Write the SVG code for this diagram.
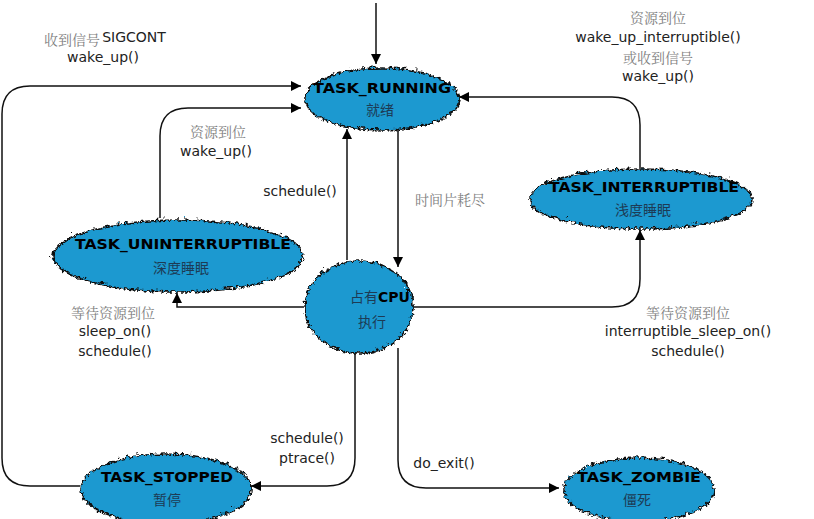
<svg xmlns="http://www.w3.org/2000/svg" width="814" height="519" viewBox="0 0 814 519">
<style>
.cloud{fill:#1d99d0;stroke:#111;stroke-width:1.6;filter:url(#wavy)}
.t{font-family:"DejaVu Sans","Noto Sans CJK SC",sans-serif;font-weight:bold;font-size:14px;fill:#000;text-anchor:middle}
.c{font-family:"Noto Sans CJK SC",sans-serif;font-size:14px;fill:#1d3b55;text-anchor:middle}
.l{font-family:"DejaVu Sans","Noto Sans CJK SC",sans-serif;font-size:14px;fill:#222;text-anchor:middle}
.g{font-family:"Noto Serif CJK SC","Noto Sans CJK SC",serif;font-size:14px;fill:#808080;text-anchor:middle}
.e{fill:none;stroke:#111;stroke-width:1.5;marker-end:url(#ah)}
</style>
<defs>
<filter id="wavy" x="-10%" y="-20%" width="120%" height="140%">
<feTurbulence type="turbulence" baseFrequency="0.2" numOctaves="1" seed="3" result="n"/>
<feDisplacementMap in="SourceGraphic" in2="n" scale="6" xChannelSelector="R" yChannelSelector="G"/>
</filter>
<marker id="ah" viewBox="0 0 10 10" refX="10" refY="5" markerWidth="10" markerHeight="10" markerUnits="userSpaceOnUse" orient="auto">
<path d="M0,0 L10,5 L0,10 z" fill="#000"/>
</marker>
</defs>
<rect width="814" height="519" fill="#fff"/>
<g id="connectors">
<path class="e" d="M376,3 V64"/>
<path class="e" d="M80,486 H30 Q2,486 2,458 V114 Q2,86 30,86 H301"/>
<path class="e" d="M160,218 V136 Q160,108 188,108 H301"/>
<path class="e" d="M347,260 V129"/>
<path class="e" d="M398,128 V267"/>
<path class="e" d="M304,307 H177 V293"/>
<path class="e" d="M412,307 H612 Q640,307 640,279 V230"/>
<path class="e" d="M640,168 V125 Q640,97 612,97 H459"/>
<path class="e" d="M355,352 V458 Q355,486 327,486 H251"/>
<path class="e" d="M398,348 V460 Q398,488 426,488 H559"/>
<text class="g" x="72" y="45">收到信号</text>
<text class="l" x="134" y="42">SIGCONT</text>
<text class="l" x="103" y="62">wake_up()</text>
<text class="g" x="218" y="137">资源到位</text>
<text class="l" x="216" y="156">wake_up()</text>
<text class="l" x="300" y="196">schedule()</text>
<text class="g" x="450" y="205">时间片耗尽</text>
<text class="g" x="658" y="23">资源到位</text>
<text class="l" x="658" y="42">wake_up_interruptible()</text>
<text class="g" x="658" y="63">或收到信号</text>
<text class="l" x="658" y="81">wake_up()</text>
<text class="g" x="113" y="318">等待资源到位</text>
<text class="l" x="115" y="336">sleep_on()</text>
<text class="l" x="115" y="356">schedule()</text>
<text class="g" x="688" y="318">等待资源到位</text>
<text class="l" x="688" y="336">interruptible_sleep_on()</text>
<text class="l" x="688" y="356">schedule()</text>
<text class="l" x="307" y="443">schedule()</text>
<text class="l" x="307" y="463">ptrace()</text>
<text class="l" x="444" y="468">do_exit()</text>
</g>
<g id="running">
<ellipse class="cloud" cx="380" cy="97" rx="77" ry="31"/>
<text class="t" x="382" y="93" textLength="138" lengthAdjust="spacingAndGlyphs">TASK_RUNNING</text>
<text class="c" x="380" y="115">就绪</text>
</g>
<g id="interruptible">
<ellipse class="cloud" cx="639" cy="197" rx="111" ry="30"/>
<text class="t" x="644" y="192" textLength="190" lengthAdjust="spacingAndGlyphs">TASK_INTERRUPTIBLE</text>
<text class="c" x="643" y="215">浅度睡眠</text>
</g>
<g id="uninterruptible">
<ellipse class="cloud" cx="176" cy="254" rx="125" ry="36"/>
<text class="t" x="183" y="249" textLength="216" lengthAdjust="spacingAndGlyphs">TASK_UNINTERRUPTIBLE</text>
<text class="c" x="181" y="273">深度睡眠</text>
</g>
<g id="cpu">
<ellipse class="cloud" cx="357" cy="305" rx="54" ry="46"/>
<text class="t" x="380" y="302"><tspan style="fill:#1d3b55;font-weight:normal;font-family:'Noto Sans CJK SC',sans-serif">占有</tspan>CPU</text>
<text class="c" x="372" y="327">执行</text>
</g>
<g id="stopped">
<ellipse class="cloud" cx="164" cy="487" rx="85" ry="35"/>
<text class="t" x="167" y="482" textLength="132" lengthAdjust="spacingAndGlyphs">TASK_STOPPED</text>
<text class="c" x="167" y="505">暂停</text>
</g>
<g id="zombie">
<ellipse class="cloud" cx="637" cy="488" rx="75" ry="32"/>
<text class="t" x="639" y="482" textLength="124" lengthAdjust="spacingAndGlyphs">TASK_ZOMBIE</text>
<text class="c" x="637" y="505">僵死</text>
</g>
</svg>
